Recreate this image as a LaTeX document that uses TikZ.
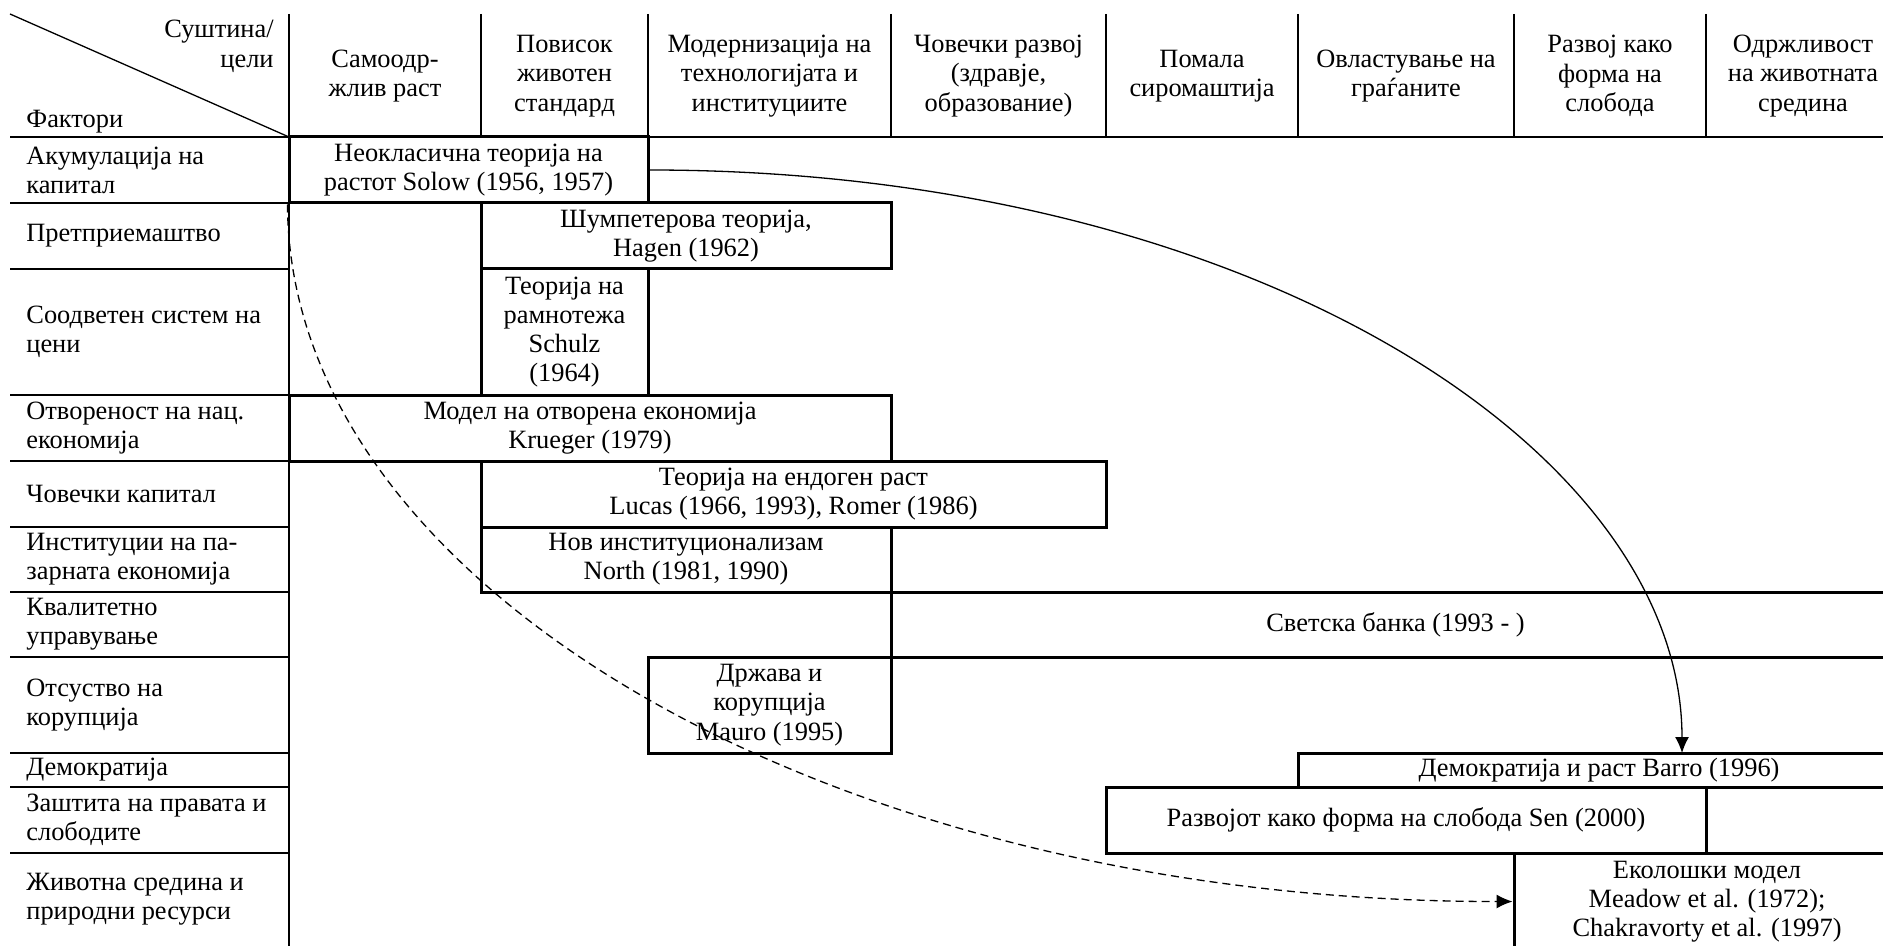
\documentclass[tikz,border=0pt]{standalone}
\usepackage{fontspec}
\setmainfont{Liberation Serif}
\usetikzlibrary{arrows.meta}

\begin{document}
\begin{tikzpicture}
  [x=0.5pt,y=-0.5pt,font=\fontsize{13.2}{14.6}\selectfont,
   thin rule/.style={line width=0.65pt},
   rule/.style={line width=0.9pt},
   theory/.style={draw,line width=1.5pt,inner sep=0pt,align=center},
   cell/.style 2 args={minimum width=#1*0.5pt,minimum height=#2*0.5pt},
   goal/.style={align=center,inner sep=0pt},
   factor/.style={anchor=west,align=left,inner sep=0pt},
   link/.style={line width=0.65pt,-{Latex[length=8pt,width=7pt]}}]
\useasboundingbox (0,0) rectangle (1883,946);
\clip (0,0) rectangle (1883,946);
\draw[thin rule] (10,14) -- (289,137);
\foreach \x in {481,648,891,1106,1298,1514,1706}
  \draw[thin rule] (\x,14) -- (\x,137);
\draw[rule] (289,14) -- (289,946);
\draw[rule] (10,137) -- (1883,137);
\foreach \y in {203,269,395,461,527,592,657,753,787,853}
  \draw[rule] (10,\y) -- (289,\y);
\node[anchor=north east,align=right,inner sep=0pt] (goals) at (274,20) {Суштина/\\цели};
\node[anchor=base west,inner sep=0pt] (factors) at (26,128) {Фактори};
\foreach \x/\t [count=\i] in {385/{Самоодр-\\жлив раст},
    564.5/{Повисок\\животен\\стандард},
    769.5/{Модернизација на\\технологијата и\\институциите},
    998.5/{Човечки развој\\(здравје,\\образование)},
    1202/{Помала\\сиромаштија},
    1406/{Овластување на\\граѓаните},
    1610/{Развој како\\форма на\\слобода},
    1803/{Одржливост\\на животната\\средина}}
  \node[goal] (g\i) at (\x,76) {\t};
\foreach \y/\t [count=\i] in {170/{Акумулација на\\капитал},
    236/{Претприемаштво},
    332/{Соодветен систем на\\цени},
    428/{Отвореност на нац.\\економија},
    494/{Човечки капитал},
    559.5/{Институции на па-\\зарната економија},
    624.5/{Квалитетно\\управување},
    705/{Отсуство на\\корупција},
    770/{Демократија},
    820/{Заштита на правата и\\слободите},
    899.5/{Животна средина и\\природни ресурси}}
  \node[factor] (f\i) at (26,\y) {\t};
\node[theory,cell={359}{66}] (solow) at (468.5,170) {Неокласична теорија на\\растот Solow (1956, 1957)};
\node[theory,cell={410}{66}] (schumpeter) at (686,236) {Шумпетерова теорија,\\Hagen (1962)};
\node[theory,cell={167}{126}] (schulz) at (564.5,332) {Теорија на\\рамнотежа\\Schulz\\(1964)};
\node[theory,cell={602}{66}] (krueger) at (590,428) {Модел на отворена економија\\Krueger (1979)};
\node[theory,cell={625}{66}] (lucas) at (793.5,494) {Теорија на ендоген раст\\Lucas (1966, 1993), Romer (1986)};
\node[theory,cell={410}{65}] (north) at (686,559.5) {Нов институционализам\\North (1981, 1990)};
\node[theory,cell={1009}{65}] (worldbank) at (1395.5,624.5) {Светска банка (1993 - )};
\node[theory,cell={243}{96}] (mauro) at (769.5,705) {Држава и\\корупција\\Mauro (1995)};
\node[theory,cell={602}{34}] (barro) at (1599,770) {Демократија и раст Barro (1996)};
\node[theory,cell={600}{66}] (sen) at (1406,820) {Развојот како форма на слобода Sen (2000)};
\node[theory,cell={194}{66}] (senrest) at (1803,820) {};
\node[theory,cell={386}{97}] (eco) at (1707,901.5) {Еколошки модел\\Meadow et al. (1972);\\Chakravorty et al. (1997)};
\coordinate (barrotip) at (1682,753);
\draw[link] (solow.east) .. controls (1250,170) and (1682,450) .. (barrotip);
\draw[link,dash pattern=on 4pt off 2.5pt] (solow.south west) .. controls (289,590) and (837,902) .. (eco.west);
\end{tikzpicture}
\end{document}
